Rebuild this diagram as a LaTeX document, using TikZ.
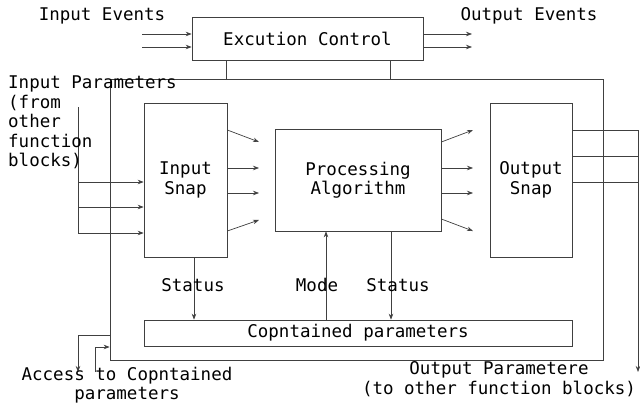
\documentclass[tikz,border=0pt]{standalone}
\usepackage{fontspec}
\setmonofont{DejaVu Sans Mono}
\usepackage{tikz}
\usetikzlibrary{positioning, arrows.meta}
\tikzstyle{block} = [rectangle, draw=black!75, fill=white, inner sep=0pt,
                 align=center, line width=0.7pt]
\tikzstyle{branch} = [draw=black!75, line width=0.7pt]
\tikzset{
	arr/.style={branch, -{Stealth[length=6pt, width=4.5pt]}},
	caption/.style={inner sep=0pt},
}

\begin{document}
\begin{tikzpicture}[x=1pt, y=-1pt,
	every node/.style={font=\ttfamily\fontsize{17.5}{19.5}\selectfont}]

\useasboundingbox (0,0) rectangle (640,407);

\node [block, minimum width=493pt, minimum height=281pt] at (356.5,219.5) (frame) {};
\node [block, minimum width=231pt, minimum height=43pt] at (307.5,38.5) (ctrl) {Excution Control};
\node [block, minimum width=83pt, minimum height=154pt] at (185.5,180) (insnap) {Input\\Snap};
\node [block, minimum width=166pt, minimum height=102pt] at (358,180) (proc) {Processing\\Algorithm};
\node [block, minimum width=82pt, minimum height=154pt] at (531,180) (outsnap) {Output\\Snap};
\node [block, minimum width=428pt, minimum height=26pt] at (358,333) (params) {Copntained parameters};

% events
\node [caption] at (102,16) (inev) {Input Events};
\node [caption] at (529,16) (outev) {Output Events};
\foreach \y in {34, 47}
	\draw [arr] (142,\y) -- (ctrl.west |- 0,\y);
\foreach \y in {34, 47}
	\draw [arr] (ctrl.east |- 0,\y) -- (472,\y);
\foreach \x in {226, 390}
	\path [branch] (ctrl.south -| \x,0) -- (frame.north -| \x,0);

% input parameters
\coordinate (ipt) at (78,107);
\coordinate (ipb) at (78,233);
\path [branch] (ipt) -- (ipb);
\foreach \y in {182, 207, 233}
	\draw [arr] (ipt |- 0,\y) -- (insnap.west |- 0,\y);
\node [caption, anchor=north west, align=left] at (8,76) (inpar)
	{Input Parameters\\(from\\other\\function\\blocks)};

% snaps to algorithm
\foreach \a/\b in {130/142, 168/168, 193/193, 231/220}
	\draw [arr] (insnap.east |- 0,\a) -- (259,\b);
\foreach \a/\b in {142/130, 168/168, 193/193, 219/231}
	\draw [arr] (proc.east |- 0,\a) -- (473,\b);

% output parameters
\coordinate (opt) at (638,130);
\coordinate (opb) at (638,372);
\foreach \y in {130, 156, 182}
	\path [branch] (outsnap.east |- 0,\y) -- (opt |- 0,\y);
\draw [arr] (opt) -- (opb);
\node [caption, align=center] at (499,379) (outpar)
	{Output Parametere\\(to other function blocks)};

% status and mode
\draw [arr] (insnap.south -| 194,0) -- (params.north -| 194,0);
\draw [arr] (params.north -| 326,0) -- (proc.south -| 326,0);
\draw [arr] (proc.south -| 391,0) -- (params.north -| 391,0);
\node [caption] at (193,285) (st1) {Status};
\node [caption] at (317,285) (mode) {Mode};
\node [caption] at (398,285) (st2) {Status};

% access
\draw [arr] (frame.west |- 0,335) -- (78,335) -- (78,372);
\draw [arr] (95,372) -- (95,347) -- (frame.west |- 0,347);
\node [caption, align=center] at (127,385) (access)
	{Access to Copntained\\parameters};

\end{tikzpicture}
\end{document}
